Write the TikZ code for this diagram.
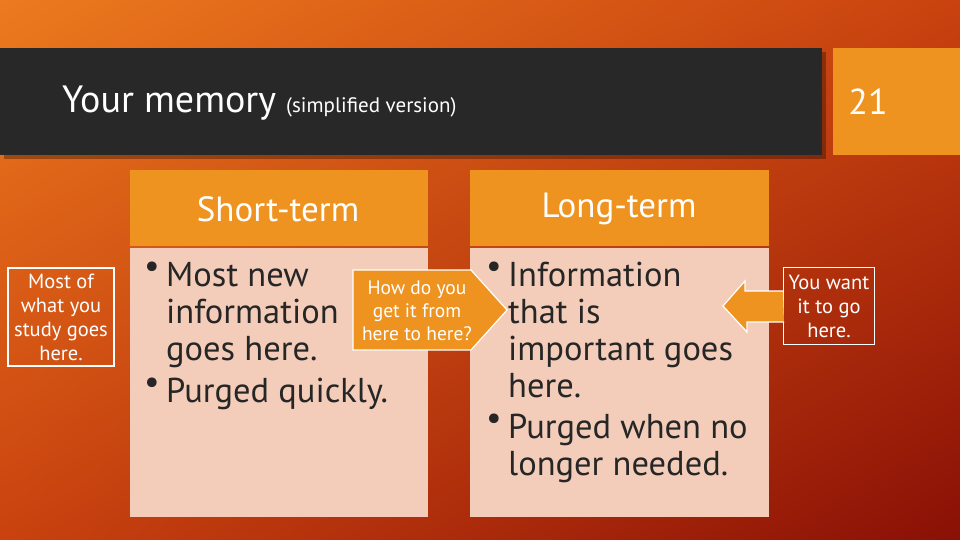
\documentclass[tikz,border=0pt]{standalone}
\usepackage{fontspec}
\setmainfont{PT Sans}
\usetikzlibrary{shadings}
\definecolor{bgA}{HTML}{EC7A1E}
\definecolor{bgM}{HTML}{C9420F}
\definecolor{bgB}{HTML}{8A1006}
\definecolor{hdr}{HTML}{EE931F}
\definecolor{bodyc}{HTML}{F3CDB9}
\definecolor{dark}{HTML}{282828}
\definecolor{txt}{HTML}{262626}
\tikzset{
  bodytxt/.style={anchor=north west,align=left,inner sep=0pt,font=\fontsize{34.5}{37}\selectfont,text=txt},
  bul/.style={anchor=north west,inner sep=0pt,font=\fontsize{34.5}{37}\selectfont,text=txt},
  note/.style={draw=white,line width=1.2pt,text=white,align=center,inner sep=0pt},
}
\begin{document}
\begin{tikzpicture}[x=1pt,y=-1pt]
\useasboundingbox (0,0) rectangle (960,540);
\shade[upper left=bgA,upper right=bgM,lower left=bgM,lower right=bgB] (0,0) rectangle (960,540);
% title bar
\fill[black,opacity=0.3] (4,52) rectangle (826,159);
\fill[dark] (0,48) rectangle (822,155);
\node[anchor=base west,text=white,inner sep=0pt] (title) at (62,113) {\fontsize{38}{40}\selectfont Your memory \fontsize{21}{24}\selectfont(simplified version)};
\fill[hdr] (833,48) rectangle (960,155);
\node[text=white,font=\fontsize{36}{40}\selectfont] (num) at (868,102) {21};
% columns
\fill[hdr] (130,170) rectangle (428,246);
\node[text=white,font=\fontsize{35}{38}\selectfont] (h1) at (278,209) {Short-term};
\fill[bodyc] (130,248) rectangle (428,517);
\fill[hdr] (470,170) rectangle (769,246);
\node[text=white,font=\fontsize{35}{38}\selectfont] (h2) at (619,209) {Long-term};
\fill[bodyc] (470,248) rectangle (769,517);
% short-term text
\node[bul] (b1) at (144,262) {•};
\node[bodytxt] (t1) at (166,262) {Most new\\information\\goes here.};
\node[bul] (b2) at (144,378) {•};
\node[bodytxt] (t2) at (166,378) {Purged quickly.};
% long-term text
\node[bul] (b3) at (486,262) {•};
\node[bodytxt] (t3) at (508,262) {Information\\that is\\important goes\\here.};
\node[bul] (b4) at (486,414) {•};
\node[bodytxt] (t4) at (508,414) {Purged when no\\longer needed.};
% notes
\node[note,minimum width=106pt,minimum height=98pt,font=\fontsize{20.5}{24}\selectfont] (n1) at (61,317) {Most of\\what you\\study goes\\here.};
\node[note,minimum width=91pt,minimum height=77pt,font=\fontsize{20.5}{24}\selectfont] (n2) at (829,306) {You want\\it to go\\here.};
% middle arrow
\draw[fill=hdr,draw=white,line width=1.2pt] (353,270) -- (471,270) -- (507,310) -- (471,350) -- (353,350) -- cycle;
\node[text=white,align=center,font=\fontsize{19.5}{23}\selectfont,inner sep=0pt] (m) at (417,311) {How do you\\get it from\\here to here?};
% left arrow
\draw[fill=hdr,draw=white,line width=1.2pt] (n2.west) ++(0,-15) coordinate (p1) -- ++(-38,0) -- ++(0,-10) -- (723,306) -- (747,332) -- ++(0,-10) -- ++(37,0);
\end{tikzpicture}
\end{document}
